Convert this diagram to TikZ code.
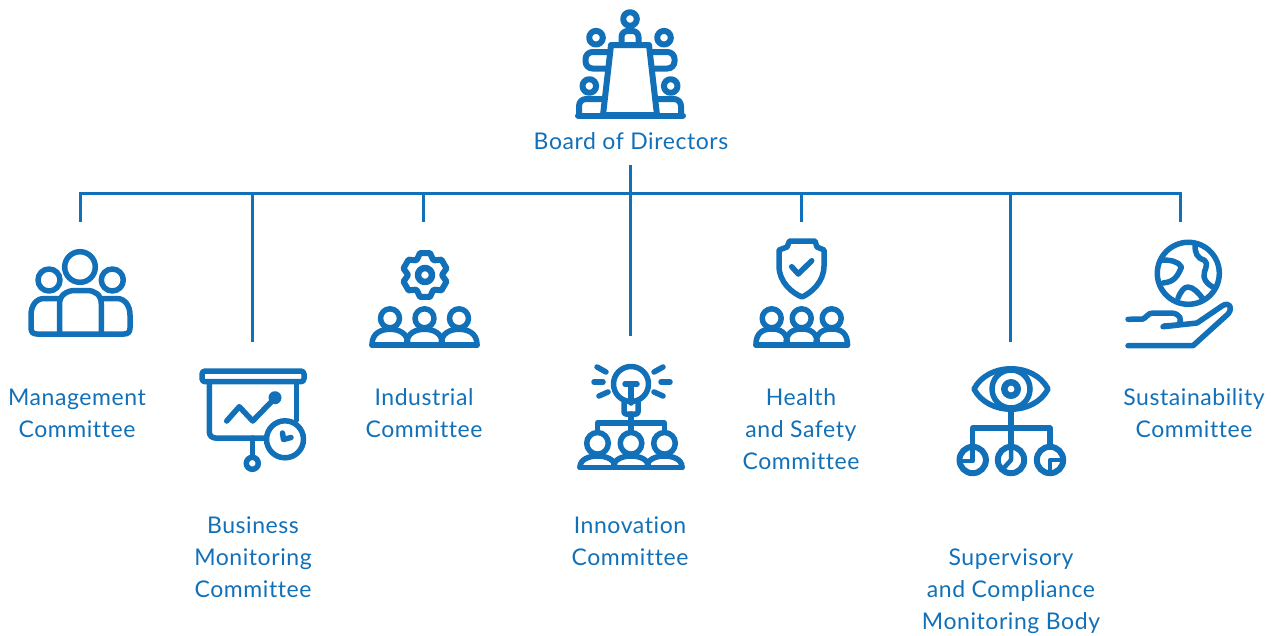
\documentclass[tikz,border=0pt]{standalone}
\usepackage{fontspec}
\setmainfont[LetterSpace=2.5, Ligatures=NoCommon]{Lato}
\definecolor{brand}{HTML}{1170B8}
\tikzset{
  wire/.style={draw=brand, line width=3pt},
  icon/.style={draw=brand, line width=5.5pt, line join=round, line cap=round},
  heavy/.style={icon, line width=6pt},
  lbl/.style={text=brand, align=center, font=\fontsize{23}{32}\selectfont, inner sep=0pt},
}
% row of three seated people: centre x, spacing, head y, arch top y, base y, head radius
\newcommand{\peoplerow}[6]{
  \foreach \n in {-1,0,1} {
    \pgfmathsetmacro{\cx}{#1+\n*#2}
    \pgfmathsetmacro{\lx}{\cx-#2/2-0.8}
    \pgfmathsetmacro{\rx}{\cx+#2/2+0.8}
    \draw[icon] (\cx,#3) circle (#6pt);
    \draw[icon] (\lx,#5) .. controls (\lx,#4+3) and (\cx-8,#4) .. (\cx,#4) .. controls (\cx+8,#4) and (\rx,#4+3) .. (\rx,#5);
  }
  \draw[icon] ({#1-1.5*#2-0.8},#5) -- ({#1+1.5*#2+0.8},#5);
}
\begin{document}
\begin{tikzpicture}[x=1pt, y=-1pt]
\useasboundingbox (0,0) rectangle (1281,635);
% Nodes
\node[lbl] (board) at (631,141) {Board of Directors};
\coordinate (stem) at (630,165);
\coordinate (hub) at (630,193);
\coordinate (busleft) at (78.5,193);
\coordinate (busright) at (1181.5,193);
\foreach \i/\j/\k/\lx/\ly/\txt in {
    mgmt/80/222/77/413/{Management\\Committee},
    business/252.5/342/253/557/{Business\\Monitoring\\Committee},
    industrial/423/222/424/413/{Industrial\\Committee},
    innovation/630/336/630/541/{Innovation\\Committee},
    health/801/222/801/429/{Health\\and Safety\\Committee},
    supervisory/1010/342/1011/591/{Supervisory\\and Compliance\\Monitoring Body},
    sustain/1180/222/1194/413/{Sustainability\\Committee}} {
  \coordinate (top\i) at (\j,193);
  \coordinate (end\i) at (\j,\k);
  \node[lbl] (\i) at (\lx,\ly) {\txt};
  % Edges
  \draw[wire] (top\i) -- (end\i);
}
\draw[wire] (stem) -- (hub);
\draw[wire] (busleft) -- (busright);
% Board table
\draw[heavy] (611,45) -- (649,45) -- (657,115) -- (603,115) -- cycle;
\draw[heavy] (578,115.5) -- (683,115.5);
\draw[heavy] (630,19) circle (6.8pt);
\draw[heavy, rounded corners=6pt] (621.5,43) -- (621.5,31) -- (638.5,31) -- (638.5,43);
\foreach \s in {-1,1} {
  \begin{scope}[shift={(630,0)}, xscale=\s]
    \draw[heavy] (-34,37.7) circle (6.8pt);
    \draw[heavy, rounded corners=7pt] (-22,52) -- (-44.5,52) -- (-44.5,68.5) -- (-24,68.5);
    \draw[heavy] (-40.7,86) circle (6.8pt);
    \draw[heavy, rounded corners=7pt] (-26,99) -- (-51,99) -- (-51,115);
  \end{scope}
}
% Management
\draw[icon] (80,267) circle (15.3pt);
\draw[icon] (49,280) circle (11pt);
\draw[icon] (112.3,280) circle (11pt);
\draw[icon] (59.5,333) -- (59.5,304) .. controls (59.5,295) and (67,290.5) .. (75,290.5) -- (87,290.5) .. controls (95,290.5) and (101.3,295) .. (101.3,304) -- (101.3,333);
\draw[icon] (59.5,298.5) -- (44,298.5) .. controls (36,298.5) and (31,306) .. (31,315) -- (31,328) .. controls (31,332) and (33,334) .. (37,334) -- (124,334) .. controls (128,334) and (130,332) .. (130,328) -- (130,315) .. controls (130,306) and (125,298.5) .. (117,298.5) -- (101.3,298.5);
% Business
\draw[icon, rounded corners=3pt] (202,371) -- (304,371) -- (304,381.7) -- (202,381.7) -- cycle;
\draw[icon, rounded corners=6pt] (209.3,382) -- (209.3,438) -- (266,438);
\draw[icon] (296.7,382) -- (296.7,420);
\draw[icon] (226.7,421) -- (239.3,406.7) -- (252.7,421) -- (275,398);
\fill[brand] (275,397.7) circle (6.5pt);
\draw[icon] (285,439.3) circle (18.5pt);
\draw[icon, line width=5.5pt] (282.5,433) -- (283.5,439.5) -- (291,437.5);
\draw[icon] (252.3,438) -- (252.3,457);
\draw[icon] (252.3,463.3) circle (6pt);
% Industrial
\begin{scope}[shift={(425,275)}]
  \draw[heavy] (-177:17.5) \foreach \a in {-150,-90,-30,30,90,150} {
    -- ({\a-27}:17.5) -- ({\a-13}:22.5) -- ({\a+13}:22.5) -- ({\a+27}:17.5)
  } -- cycle;
  \draw[heavy, line width=6.5pt] (0,0) circle (7pt);
\end{scope}
\peoplerow{424.5}{34.5}{318.3}{329.3}{345}{9.5}
% Innovation
\draw[icon] (631,384) circle (17.5pt);
\draw[icon, rounded corners=2pt] (624,402) -- (624,414) -- (638,414) -- (638,402);
\draw[icon] (625,384) -- (637,384);
\draw[icon] (631,384) -- (631,403);
\draw[icon] (631,414) -- (631,432);
\draw[icon] (597.3,431) -- (597.3,423) -- (664.3,423) -- (664.3,431);
\foreach \xa/\ya/\xb/\yb in {597/367/606/372, 594/382/603/382, 599/396/608/392, 663/367/654/372, 661/382/670/382, 654/392/663/396} {
  \draw[icon] (\xa,\ya) -- (\xb,\yb);
}
\peoplerow{631}{33.5}{443.3}{456}{467.3}{10.8}
% Health
\draw[icon] (789.5,241) -- (815,241) -- (817,247) -- (824,250) -- (824,266) .. controls (824,282) and (811,293) .. (802,297) .. controls (792,293) and (779,282) .. (779,266) -- (779,250) -- (787,247) -- cycle;
\draw[icon] (791.7,266.7) -- (798.3,274) -- (811.7,260.7);
\peoplerow{801.7}{30}{318.3}{329}{345}{9.5}
% Supervisory
\draw[icon] (974,389) .. controls (988,362) and (1034,362) .. (1048,389) .. controls (1034,416) and (988,416) .. (974,389) -- cycle;
\draw[icon] (1011,389) circle (19pt);
\draw[icon, line width=6.5pt] (1011,389) circle (6.7pt);
\draw[icon] (1011,408) -- (1011,446);
\draw[icon] (972.7,446) -- (972.7,428) -- (1050,428) -- (1050,446);
\foreach \c in {972.7,1011,1050} {
  \draw[heavy] (\c,460) circle (13.2pt);
}
\draw[icon, line width=4.5pt] (972.7,446) -- (972.7,461) -- (960,461);
\draw[icon, line width=4.5pt] (1011,446) -- (1011,460) -- (1002,470);
\draw[icon, line width=4.5pt] (1062,460) -- (1050,460) -- (1050,473);
% Sustainability
\draw[icon] (1188.3,273.3) circle (31pt);
\draw[icon] (1162,260) .. controls (1170,260) and (1178,261) .. (1181.5,267) .. controls (1178,275) and (1175,282) .. (1163,283);
\draw[icon] (1195,245) .. controls (1195,253) and (1197,258) .. (1204,260) .. controls (1210,265) and (1203,270) .. (1204,277) .. controls (1205,282) and (1210,286) .. (1215,288);
\draw[icon] (1178,298) .. controls (1181,291) and (1184,287) .. (1188,287) .. controls (1193,287) and (1199,293) .. (1203,299);
\draw[icon] (1128,345.7) -- (1193,345.7) -- (1228,314) .. controls (1233,308) and (1230,301) .. (1222,306) -- (1197,323) -- (1163,326.7);
\draw[icon] (1128,319.3) -- (1143,319) .. controls (1147,317) and (1148,313) .. (1153,313) -- (1172,313) .. controls (1180,314) and (1183,320) .. (1178,325) -- (1164,326);
\end{tikzpicture}
\end{document}
